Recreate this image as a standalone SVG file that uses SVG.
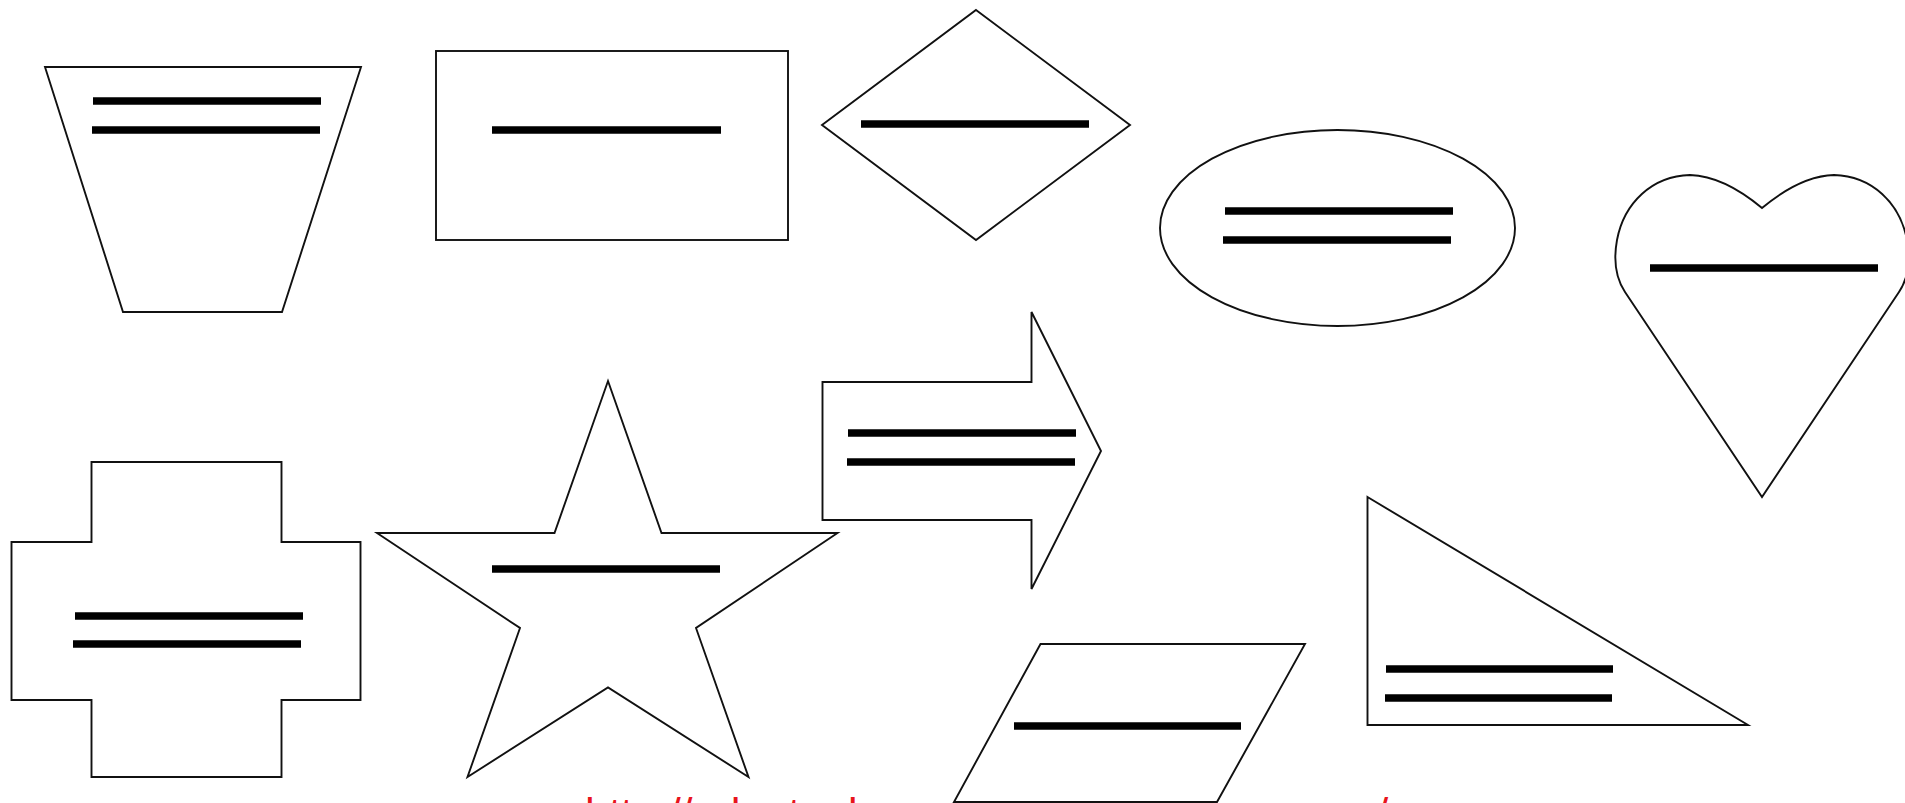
<svg xmlns="http://www.w3.org/2000/svg" width="1905" height="803" viewBox="0 0 1905 803">
<style>
.shape{fill:#fff;stroke:#111;stroke-width:1.9;stroke-linejoin:miter}
.bar{stroke:#000;stroke-width:7.5;stroke-linecap:butt}
.url{font-family:"Liberation Sans",Arial,sans-serif;font-size:43px;fill:#e8141c}
</style>
<rect width="1905" height="803" fill="#fff"/>
<text class="url" x="585" y="828">http://ednetuela.savoreanuevamarca.com/</text>
<g id="trapezoid">
<polygon class="shape" points="45,67 361,67 282,312 123,312"/>
<line class="bar" x1="93" y1="101" x2="321" y2="101"/>
<line class="bar" x1="92" y1="130" x2="320" y2="130"/>
</g>
<g id="rectangle">
<rect class="shape" x="436" y="51" width="352" height="189"/>
<line class="bar" x1="492" y1="130" x2="721" y2="130"/>
</g>
<g id="diamond">
<polygon class="shape" points="976,10 1130,125 976,240 822,125"/>
<line class="bar" x1="861" y1="124" x2="1089" y2="124"/>
</g>
<g id="ellipse">
<ellipse class="shape" cx="1337.5" cy="228" rx="177.5" ry="98"/>
<line class="bar" x1="1225" y1="211" x2="1453" y2="211"/>
<line class="bar" x1="1223" y1="240" x2="1451" y2="240"/>
</g>
<g id="heart">
<path class="shape" d="M1762,208 C1750,198 1722,176 1690,175 C1652,176 1624,203 1617,240 C1613,262 1617,280 1625,292 L1762,497 L1899,292 C1907,280 1911,262 1907,240 C1900,203 1872,176 1834,175 C1802,176 1774,198 1762,208 Z"/>
<line class="bar" x1="1650" y1="268" x2="1878" y2="268"/>
</g>
<g id="arrow">
<polygon class="shape" points="822.5,382 1031.5,382 1031.5,312 1101,451 1031.5,589 1031.5,520 822.5,520"/>
<line class="bar" x1="848" y1="433" x2="1076" y2="433"/>
<line class="bar" x1="847" y1="462" x2="1075" y2="462"/>
</g>
<g id="cross">
<polygon class="shape" points="91.5,462 281.5,462 281.5,542 360.5,542 360.5,700 281.5,700 281.5,777 91.5,777 91.5,700 11.5,700 11.5,542 91.5,542"/>
<line class="bar" x1="75" y1="616" x2="303" y2="616"/>
<line class="bar" x1="73" y1="644" x2="301" y2="644"/>
</g>
<g id="star">
<polygon class="shape" points="608,381 661.5,533 837.5,533 696,628 748.5,777 608,687.5 467.5,777 520,628 377,533 554.5,533"/>
<line class="bar" x1="492" y1="569" x2="720" y2="569"/>
</g>
<g id="parallelogram">
<polygon class="shape" points="1040.5,644 1305,644 1217,802 954,802"/>
<line class="bar" x1="1014" y1="726" x2="1241" y2="726"/>
</g>
<g id="triangle">
<polygon class="shape" points="1367.5,497 1748,725 1367.5,725"/>
<line class="bar" x1="1386" y1="669" x2="1613" y2="669"/>
<line class="bar" x1="1385" y1="698" x2="1612" y2="698"/>
</g>
<g id="connectors"></g>
</svg>
